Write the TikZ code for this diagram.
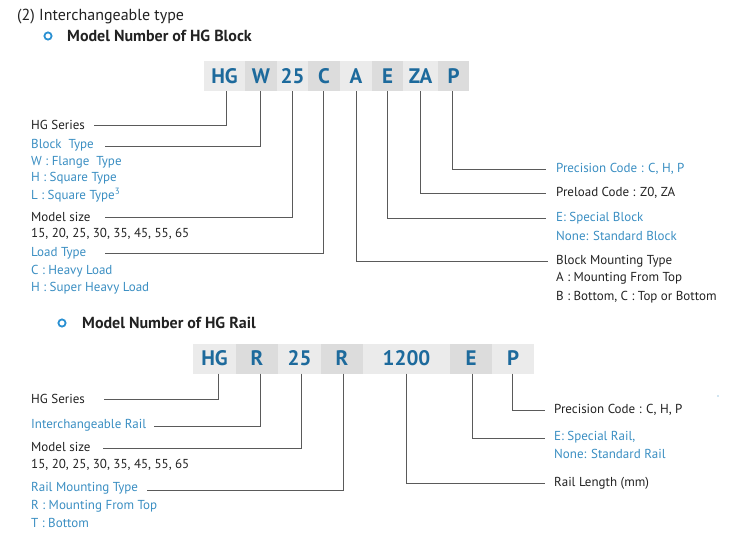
\documentclass[tikz,border=0pt]{standalone}
\usepackage{fontspec}
\setmainfont{PT Sans}
\definecolor{codeblue}{HTML}{1D6A9C}
\definecolor{txtblue}{HTML}{3A8EC2}
\definecolor{ringblue}{HTML}{2A90D2}
\definecolor{boxL}{HTML}{EBEBEB}
\definecolor{boxD}{HTML}{DCDCDC}
\definecolor{linegray}{HTML}{5A5A5A}
\definecolor{txtdark}{HTML}{222222}
\begin{document}
\begin{tikzpicture}[x=1pt,y=-1pt,
  codebox/.style={minimum height=30pt,inner sep=0pt,text=codeblue,font=\fontsize{21}{21}\selectfont\bfseries},
  lt/.style={fill=boxL},
  dk/.style={fill=boxD},
  lbl/.style={anchor=west,inner sep=0pt,text=txtdark,font=\fontsize{13}{15}\selectfont},
  blbl/.style={lbl,text=txtblue},
  head/.style={lbl,font=\fontsize{16}{18}\selectfont},
  conn/.style={draw=linegray,line width=1pt},
  ring/.style={draw=ringblue,line width=1.8pt}]
\useasboundingbox (0,0) rectangle (751,550);
% headings
\node[head] (h1) at (17,17) {(2) Interchangeable type};
\draw[ring] (48,36) circle (3.6);
\node[head,font=\fontsize{16}{18}\selectfont\bfseries] (h2) at (67,36) {Model Number of HG Block};
% block code boxes
\node[codebox,lt,minimum width=41pt] (bHG) at (224.5,76) {HG};
\node[codebox,dk,minimum width=32pt] (bW) at (261,76) {W};
\node[codebox,lt,minimum width=31pt] (b25) at (292.5,76) {25};
\node[codebox,dk,minimum width=32pt] (bC) at (324,76) {C};
\node[codebox,lt,minimum width=32pt] (bA) at (356,76) {A};
\node[codebox,dk,minimum width=31pt] (bE) at (387.5,76) {E};
\node[codebox,lt,minimum width=35pt] (bZA) at (420.5,76) {ZA};
\node[codebox,dk,minimum width=31pt] (bP) at (453.5,76) {P};
% block left labels
\node[lbl] (lHG) at (31,125) {HG Series};
\node[blbl] (lBT) at (31,145) {Block\ \ Type};
\node[blbl] (lW) at (31,162) {W : Flange\ \ Type};
\node[blbl] (lH) at (31,178) {H : Square Type};
\node[blbl] (lL) at (31,195) {L : Square Type\textsuperscript{3}};
\node[lbl] (lMS) at (31,217) {Model size};
\node[lbl] (lMSv) at (31,234) {15, 20, 25, 30, 35, 45, 55, 65};
\node[blbl] (lLT) at (31,253) {Load Type};
\node[blbl] (lC) at (31,271) {C : Heavy Load};
\node[blbl] (lSH) at (31,288) {H : Super Heavy Load};
% block right labels
\node[blbl] (rP) at (556,169) {Precision Code : C, H, P};
\node[lbl] (rZA) at (556,193) {Preload Code : Z0, ZA};
\node[blbl] (rE) at (556,218) {E: Special Block};
\node[blbl] (rEn) at (556,236) {None: Standard Block};
\node[lbl] (rA) at (556,261) {Block Mounting Type};
\node[lbl] (rA1) at (556,278) {A : Mounting From Top};
\node[lbl] (rA2) at (556,297) {B : Bottom, C : Top or Bottom};
% block connector ends
\coordinate (cHG) at (94,125);
\coordinate (cW) at (105,146);
\coordinate (c25) at (105,217);
\coordinate (cC) at (105,253);
\coordinate (cA) at (548,261);
\coordinate (cE) at (546,218);
\coordinate (cZA) at (546,193);
\coordinate (cP) at (546,169);
\draw[conn] ([xshift=1.5pt]bHG.south) |- (cHG);
\draw[conn] ([xshift=-1pt]bW.south) |- (cW);
\draw[conn] (b25.south) |- (c25);
\draw[conn] ([xshift=-1pt]bC.south) |- (cC);
\draw[conn] (bA.south) |- (cA);
\draw[conn] (bE.south) |- (cE);
\draw[conn] (bZA.south) |- (cZA);
\draw[conn] ([xshift=-1.5pt]bP.south) |- (cP);
% rail heading
\draw[ring] (62,323) circle (3.6);
\node[head,font=\fontsize{16}{18}\selectfont\bfseries] (h3) at (82,323) {Model Number of HG Rail};
% rail code boxes
\node[codebox,lt,minimum width=43pt] (rHG) at (214.5,358.5) {HG};
\node[codebox,dk,minimum width=42pt] (rR) at (257,358.5) {R};
\node[codebox,lt,minimum width=43pt] (r25) at (299.5,358.5) {25};
\node[codebox,dk,minimum width=42pt] (rR2) at (342,358.5) {R};
\node[codebox,lt,minimum width=87pt] (r1200) at (406.5,358.5) {1200};
\node[codebox,dk,minimum width=42pt] (rE2) at (471,358.5) {E};
\node[codebox,lt,minimum width=42pt] (rP2) at (513,358.5) {P};
% rail labels
\node[lbl] (qHG) at (31,399) {HG Series};
\node[blbl] (qIR) at (31,425) {Interchangeable Rail};
\node[lbl] (qMS) at (31,447) {Model size};
\node[lbl] (qMSv) at (31,465) {15, 20, 25, 30, 35, 45, 55, 65};
\node[blbl] (qRM) at (31,488) {Rail Mounting Type};
\node[blbl] (qR) at (31,506) {R : Mounting From Top};
\node[blbl] (qT) at (31,523) {T : Bottom};
\node[lbl] (sP) at (554,410) {Precision Code : C, H, P};
\node[blbl] (sE) at (554,437) {E: Special Rail,};
\node[blbl] (sEn) at (554,454) {None: Standard Rail};
\node[lbl] (sL) at (554,483) {Rail Length (mm)};
\coordinate (dHG) at (104,399);
\coordinate (dR) at (154,426);
\coordinate (d25) at (103,448);
\coordinate (dR2) at (147,490);
\coordinate (d1200) at (545,483);
\coordinate (dE) at (545,438);
\coordinate (dP) at (545,410);
\draw[conn] ([xshift=3.5pt]rHG.south) |- (dHG);
\draw[conn] ([xshift=3pt]rR.south) |- (dR);
\draw[conn] ([xshift=1.5pt]r25.south) |- (d25);
\draw[conn] ([xshift=1pt]rR2.south) |- (dR2);
\draw[conn] ([xshift=-0.5pt]r1200.south) |- (d1200);
\draw[conn] ([xshift=1pt]rE2.south) |- (dE);
\draw[conn] ([xshift=-1pt]rP2.south) |- (dP);
\fill[txtblue] (718,396) circle (0.7);
\end{tikzpicture}
\end{document}
